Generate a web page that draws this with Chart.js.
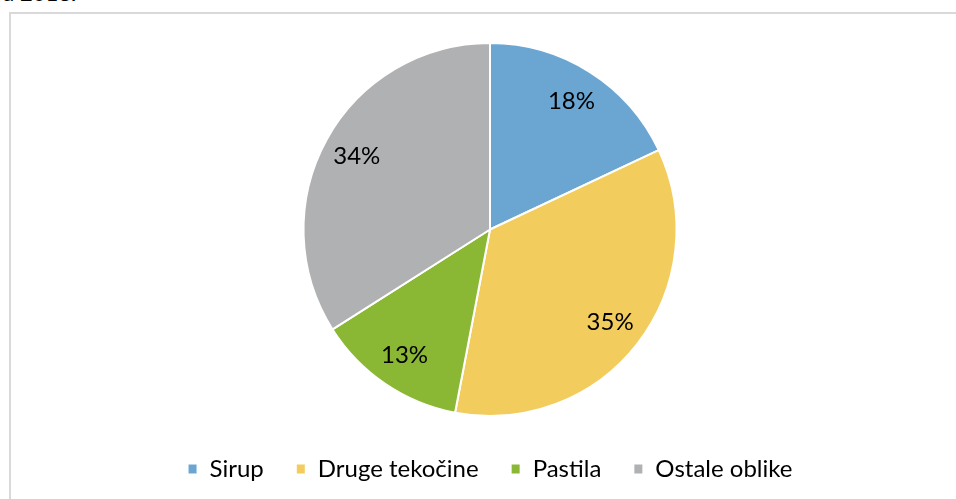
<!DOCTYPE html>
<html>
<head>
<meta charset="utf-8">
<script src="https://cdn.jsdelivr.net/npm/chart.js@4"></script>
<style>
  html, body { margin: 0; padding: 0; background: #ffffff; overflow: hidden; }
  #wrap { position: relative; width: 956px; height: 499px; }
  #frame { position: absolute; left: 9px; top: 12px; width: 960px; height: 500px; border: 2px solid #D9D9D9; box-sizing: border-box; }
  #cap { position: absolute; left: 2px; top: -18.5px; font: 22px Lato, sans-serif; line-height: 22px; color: #000; white-space: nowrap; }
  #c { position: absolute; left: 0; top: 0; }
</style>
</head>
<body>
<div id="wrap">
  <div id="cap">u 2018.</div>
  <div id="frame"></div>
  <canvas id="c" width="956" height="499"></canvas>
</div>
<script>
const categories = ["Sirup", "Druge tekočine", "Pastila", "Ostale oblike"];
const shares = [18, 35, 13, 34];
const sliceColors = ["#6BA6D2", "#F2CD5E", "#8AB834", "#B0B1B3"];

const pctLabels = {
  id: 'pctLabels',
  afterDatasetsDraw(chart) {
    const ctx = chart.ctx;
    const meta = chart.getDatasetMeta(0);
    const data = chart.data.datasets[0].data;
    ctx.save();
    ctx.font = '24px Lato, sans-serif';
    ctx.fillStyle = '#000000';
    ctx.textAlign = 'center';
    ctx.textBaseline = 'middle';
    meta.data.forEach((arc, i) => {
      const p = arc.getProps(['x', 'y', 'startAngle', 'endAngle', 'outerRadius'], true);
      const mid = (p.startAngle + p.endAngle) / 2;
      const r = p.outerRadius * 0.815;
      ctx.fillText(data[i] + '%', p.x + Math.cos(mid) * r, p.y + Math.sin(mid) * r);
    });
    ctx.restore();
  }
};

const legendShift = {
  id: 'legendShift',
  afterLayout(chart) {
    if (chart.legend) {
      chart.legend.top += 8;
      chart.legend.bottom += 8;
    }
  }
};

new Chart(document.getElementById('c'), {
  type: 'pie',
  data: {
    labels: categories,
    datasets: [{
      data: shares,
      backgroundColor: sliceColors,
      borderColor: '#ffffff',
      borderWidth: 2
    }]
  },
  options: {
    responsive: false,
    animation: false,
    events: [],
    layout: { padding: { top: 42, left: 24, right: 0, bottom: 16 } },
    plugins: {
      tooltip: { enabled: false },
      legend: {
        position: 'bottom',
        labels: {
          boxWidth: 10,
          boxHeight: 11,
          padding: 32,
          color: '#000000',
          font: { family: 'Lato, sans-serif', size: 24 }
        }
      }
    }
  },
  plugins: [pctLabels, legendShift]
});
</script>
</body>
</html>
